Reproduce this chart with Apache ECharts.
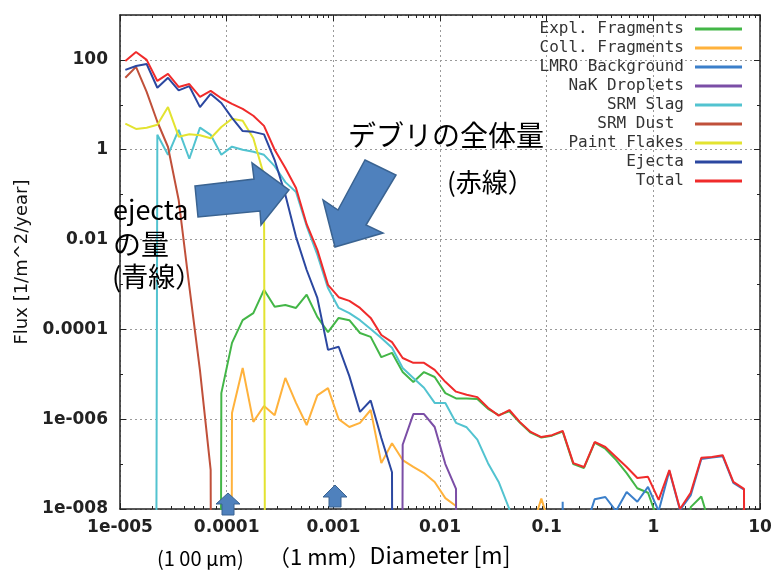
<!DOCTYPE html>
<html>
<head>
<meta charset="utf-8">
<title>Flux vs Diameter</title>
<script src="https://cdn.jsdelivr.net/npm/echarts@6/dist/echarts.min.js"></script>
<style>
    html, body {margin: 0; padding: 0; background: #fff;}
    #flux-chart {width: 776px; height: 572px;}
</style>
</head>
<body>
<div id="flux-chart"></div>
<script>
// value below the bottom of the flux axis (curve drops out of the plot)
var B = 1e-99;

// bin centres, diameter [m]
var diameters = [
    1.122e-5, 1.413e-5, 1.778e-5, 2.239e-5, 2.818e-5, 3.548e-5, 4.467e-5, 5.623e-5, 7.079e-5, 8.913e-5,
    1.122e-4, 1.413e-4, 1.778e-4, 2.239e-4, 2.818e-4, 3.548e-4, 4.467e-4, 5.623e-4, 7.079e-4, 8.913e-4,
    1.122e-3, 1.413e-3, 1.778e-3, 2.239e-3, 2.818e-3, 3.548e-3, 4.467e-3, 5.623e-3, 7.079e-3, 8.913e-3,
    0.01122, 0.01413, 0.01778, 0.02239, 0.02818, 0.03548, 0.04467, 0.05623, 0.07079, 0.08913,
    0.1122, 0.1413, 0.1778, 0.2239, 0.2818, 0.3548, 0.4467, 0.5623, 0.7079, 0.8913,
    1.122, 1.413, 1.778, 2.239, 2.818, 3.548, 4.467, 5.623, 7.079, 8.913
];

var explFragments = [
    B, B, B, B, B, B, B, B, B, 3.8e-6,
    5.0e-5, 1.6e-4, 2.3e-4, 7.6e-4, 3.2e-4, 3.5e-4, 3.0e-4, 5.9e-4, 1.9e-4, 8.7e-5,
    1.8e-4, 1.6e-4, 8.3e-5, 6.8e-5, 2.4e-5, 3.0e-5, 1.12e-5, 6.7e-6, 1.12e-5, 8.7e-6,
    3.8e-6, 2.9e-6, 2.9e-6, 2.8e-6, 1.7e-6, 1.23e-6, 1.5e-6, 8.3e-7, 5.0e-7, 3.9e-7,
    4.3e-7, 5.3e-7, 1.0e-7, 8.2e-8, 3.0e-7, 2.2e-7, 1.24e-7, 6.3e-8, 2.9e-8, 2.3e-8,
    5e-9, B, B, 1.1e-8, 1.9e-8, 3e-9, B, B, B, B
];
var collFragments = [
    B, B, B, B, B, B, B, B, B, B,
    1.38e-6, 1.38e-5, 8.7e-7, 1.96e-6, 1.23e-6, 8.3e-6, 2.3e-6, 7.4e-7, 3.4e-6, 4.9e-6,
    1.0e-6, 6.7e-7, 8.3e-7, 1.6e-6, 1.05e-7, 2.9e-7, 1.23e-7, 8.7e-8, 6.3e-8, 4.0e-8,
    1.75e-8, 1.17e-8, B, B, B, B, B, B, 3e-9, 1.7e-8,
    3e-9, B, B, B, B, B, B, B, B, B,
    B, B, B, B, B, B, B, B, B, B
];
var lmroBackground = [
    B, B, B, B, B, B, B, B, B, B,
    B, B, B, B, B, B, B, B, B, B,
    B, B, B, B, B, B, B, B, B, B,
    B, B, B, B, B, B, B, B, B, B,
    B, 1.45e-8, B, 3e-9, 1.65e-8, 1.85e-8, 9e-9, 2.4e-8, 1.45e-8, 3.1e-8,
    9e-9, 7e-8, 9.5e-9, 2.0e-8, 1.3e-7, 1.4e-7, 1.5e-7, 3.8e-8, 2.7e-8, B
];
var nakDroplets = [
    B, B, B, B, B, B, B, B, B, B,
    B, B, B, B, B, B, B, B, B, B,
    B, B, B, B, B, B, 2.7e-7, 1.3e-6, 1.3e-6, 6.7e-7,
    1.0e-7, 2.8e-8, B, B, B, B, B, B, B, B,
    B, B, B, B, B, B, B, B, B, B,
    B, B, B, B, B, B, B, B, B, B
];
var srmSlag = [
    B, B, B, 2.15, 0.77, 2.76, 0.63, 3.1, 2.15, 0.77,
    1.17, 1.0, 0.9, 0.77, 0.43, 0.19, 0.115, 0.020, 0.0046, 8.3e-4,
    3.0e-4, 2.3e-4, 1.6e-4, 1.02e-4, 6.4e-5, 3.9e-5, 1.38e-5, 8.3e-6, 5.0e-6, 2.3e-6,
    2.3e-6, 8.3e-7, 6.6e-7, 3.5e-7, 1.05e-7, 4.0e-8, 1.0e-8, B, B, B,
    B, B, B, B, B, B, B, B, B, B,
    B, B, B, B, B, B, B, B, B, B
];
var srmDust = [
    40, 70, 19.5, 4.2, 1.15, 0.076, 9e-4, 1.2e-5, 7.4e-8, B,
    B, B, B, B, B, B, B, B, B, B,
    B, B, B, B, B, B, B, B, B, B,
    B, B, B, B, B, B, B, B, B, B,
    B, B, B, B, B, B, B, B, B, B,
    B, B, B, B, B, B, B, B, B, B
];
var paintFlakes = [
    3.8, 2.9, 3.1, 3.6, 8.9, 1.95, 2.2, 2.1, 1.8, 3.2,
    4.9, 4.4, 1.8, 0.27, B, B, B, B, B, B,
    B, B, B, B, B, B, B, B, B, B,
    B, B, B, B, B, B, B, B, B, B,
    B, B, B, B, B, B, B, B, B, B,
    B, B, B, B, B, B, B, B, B, B
];
var ejecta = [
    60, 73, 81, 24, 40, 21, 26, 8.9, 17.5, 11,
    5.1, 2.6, 2.5, 2.2, 0.59, 0.1, 0.0115, 0.0021, 5.0e-4, 3.5e-5,
    4.1e-5, 9.1e-6, 1.45e-6, 2.6e-6, 3.8e-7, 6.6e-8, B, B, B, B,
    B, B, B, B, B, B, B, B, B, B,
    B, B, B, B, B, B, B, B, B, B,
    B, B, B, B, B, B, B, B, B, B
];
var total = [
    95, 150, 100, 34, 49, 25, 29, 15, 20.5, 14,
    10.5, 8.1, 5.7, 3.4, 1.0, 0.39, 0.14, 0.022, 0.0059, 9.8e-4,
    5.2e-4, 4.3e-4, 3.0e-4, 1.8e-4, 7.5e-5, 5.2e-5, 2.3e-5, 1.8e-5, 1.8e-5, 1.25e-5,
    6.8e-6, 4.1e-6, 3.5e-6, 3.1e-6, 1.8e-6, 1.2e-6, 1.6e-6, 8.6e-7, 5.2e-7, 4.0e-7,
    4.4e-7, 5.5e-7, 1.05e-7, 8.6e-8, 3.1e-7, 2.4e-7, 1.44e-7, 8.6e-8, 4.9e-8, 5.2e-8,
    1.6e-8, 7.4e-8, 1.0e-8, 2.3e-8, 1.38e-7, 1.44e-7, 1.58e-7, 4.0e-8, 2.8e-8, B
];

var seriesNames = ['Expl. Fragments', 'Coll. Fragments', 'LMRO Background', 'NaK Droplets',
    'SRM Slag', 'SRM Dust ', 'Paint Flakes', 'Ejecta', 'Total'];
var seriesValues = [explFragments, collFragments, lmroBackground, nakDroplets,
    srmSlag, srmDust, paintFlakes, ejecta, total];
var seriesColors = ['#43b647', '#ffb23c', '#3b7fca', '#7b4ea6', '#52c3d0', '#c0503a', '#e3e330', '#2b47a0', '#f02b2b'];

// tick labels
var xTicks = [1e-5, 1e-4, 1e-3, 0.01, 0.1, 1, 10];
var xTickLabels = ['1e-005', '0.0001', '0.001', '0.01', '0.1', '1', '10'];
var yTicks = [1e-8, 1e-6, 1e-4, 0.01, 1, 100];
var yTickLabels = ['1e-008', '1e-006', '0.0001', '0.01', '1', '100'];
var yMinorTicks = [1e-7, 1e-5, 1e-3, 0.1, 10];

var xMinorTicks = [];
for (var e = -5; e < 1; e++) {
    for (var m = 2; m <= 9; m++) {
        xMinorTicks.push(m * Math.pow(10, e));
    }
}

function tickLabel(ticks, labels) {
    return function (v) {
        for (var i = 0; i < ticks.length; i++) {
            if (Math.abs(Math.log10(ticks[i]) - Math.log10(v)) < 0.01) {
                return labels[i];
            }
        }
        return '';
    };
}

var axisColor = '#222';
var labelFont = {fontFamily: 'DejaVu Sans', fontSize: 17, fontWeight: 'bold', color: '#222'};

function xAxisOf(position, opts) {
    var a = {
        type: 'log', logBase: 10, min: 1e-5, max: 10, interval: 1, position: position,
        axisLine: {show: false, onZero: false},
        axisTick: {show: false},
        axisLabel: {show: false},
        splitLine: {show: false},
        minorTick: {show: false}
    };
    return Object.assign(a, opts);
}

function yAxisOf(position, opts) {
    var a = {
        type: 'log', logBase: 10, min: 1e-8, max: 1000, interval: 2, position: position,
        axisLine: {show: false, onZero: false},
        axisTick: {show: false},
        axisLabel: {show: false},
        splitLine: {show: false},
        minorTick: {show: false}
    };
    return Object.assign(a, opts);
}

var gridLine = {show: true, lineStyle: {color: '#9a9a9a', width: 1, type: [2, 3]}};

var myChart = echarts.init(document.getElementById('flux-chart'));

var option = {
    animation: false,
    backgroundColor: '#fff',
    grid: {left: 120, right: 16, top: 15, bottom: 63, containLabel: false, outerBoundsMode: 'none'},
    legend: {
        orient: 'vertical',
        right: 34,
        top: 19.5,
        padding: 0,
        align: 'right',
        icon: 'rect',
        itemWidth: 47,
        itemHeight: 3,
        itemGap: 0,
        selectedMode: false,
        textStyle: {fontFamily: 'DejaVu Sans Mono', fontSize: 16, color: '#333', lineHeight: 19, padding: [0, 6, 0, 0]},
        data: seriesNames
    },
    xAxis: [
        xAxisOf('bottom', {
            name: 'Diameter [m]',
            nameLocation: 'middle',
            nameGap: 35,
            nameTextStyle: {fontFamily: 'Noto Sans CJK JP', fontSize: 23, color: '#000'},
            axisLine: {show: true, onZero: false, lineStyle: {color: axisColor, width: 1.5}},
            axisTick: {show: true, inside: true, length: 6, lineStyle: {color: axisColor}},
            axisLabel: Object.assign({show: true, margin: 10, formatter: tickLabel(xTicks, xTickLabels)}, labelFont),
            splitLine: gridLine
        }),
        xAxisOf('bottom', {
            axisTick: {show: true, inside: true, length: 3, customValues: xMinorTicks, lineStyle: {color: axisColor}}
        }),
        xAxisOf('top', {
            axisLine: {show: true, onZero: false, lineStyle: {color: axisColor, width: 1.5}},
            axisTick: {show: true, inside: true, length: 6, lineStyle: {color: axisColor}}
        }),
        xAxisOf('top', {
            axisTick: {show: true, inside: true, length: 3, customValues: xMinorTicks, lineStyle: {color: axisColor}}
        })
    ],
    yAxis: [
        yAxisOf('left', {
            name: 'Flux [1/m^2/year]',
            nameLocation: 'middle',
            nameGap: 86,
            nameTextStyle: {fontFamily: 'DejaVu Sans', fontSize: 18, color: '#111'},
            axisLine: {show: true, onZero: false, lineStyle: {color: axisColor, width: 1.5}},
            axisTick: {show: true, inside: true, length: 6, lineStyle: {color: axisColor}},
            axisLabel: Object.assign({show: true, margin: 12, showMaxLabel: false, formatter: tickLabel(yTicks, yTickLabels)}, labelFont),
            splitLine: gridLine
        }),
        yAxisOf('left', {
            axisTick: {show: true, inside: true, length: 3, customValues: yMinorTicks, lineStyle: {color: axisColor}}
        }),
        yAxisOf('right', {
            axisLine: {show: true, onZero: false, lineStyle: {color: axisColor, width: 1.5}},
            axisTick: {show: true, inside: true, length: 6, lineStyle: {color: axisColor}}
        }),
        yAxisOf('right', {
            axisTick: {show: true, inside: true, length: 3, customValues: yMinorTicks, lineStyle: {color: axisColor}}
        })
    ],
    series: seriesNames.map(function (name, i) {
        return {
            name: name,
            type: 'line',
            xAxisIndex: 0,
            yAxisIndex: 0,
            symbol: 'none',
            clip: true,
            z: 2 + i,
            itemStyle: {color: seriesColors[i]},
            lineStyle: {color: seriesColors[i], width: 2},
            data: diameters.map(function (d, k) {
                return [d, seriesValues[i][k]];
            })
        };
    }),
    // annotations laid over the plot
    graphic: [
        {
            type: 'polygon', z: 100,
            shape: {points: [[195, 186], [254, 179], [252, 163], [289, 190], [261, 225], [260, 211], [198, 217]]},
            style: {fill: '#4f81bd', stroke: '#3a6391', lineWidth: 1.5}
        },
        {
            type: 'polygon', z: 100,
            shape: {points: [[365, 160], [396, 175], [366, 225], [383, 233], [335, 247], [323, 200], [338, 210]]},
            style: {fill: '#4f81bd', stroke: '#3a6391', lineWidth: 1.5}
        },
        {
            type: 'polygon', z: 100,
            shape: {points: [[228, 493], [240, 504], [234, 504], [234, 515], [222, 515], [222, 504], [216, 504]]},
            style: {fill: '#4f81bd', stroke: '#3a6391', lineWidth: 1}
        },
        {
            type: 'polygon', z: 100,
            shape: {points: [[335, 485], [347, 497], [341, 497], [341, 507], [329, 507], [329, 497], [323, 497]]},
            style: {fill: '#4f81bd', stroke: '#3a6391', lineWidth: 1}
        },
        {type: 'text', z: 100, style: {text: 'デブリの全体量', x: 348, y: 135, verticalAlign: 'middle', fill: '#000', font: '28px "Noto Sans CJK JP"'}},
        {type: 'text', z: 100, style: {text: '(赤線）', x: 447, y: 182, verticalAlign: 'middle', fill: '#000', font: '26px "Noto Sans CJK JP"'}},
        {type: 'text', z: 100, style: {text: 'ejecta', x: 113, y: 210, verticalAlign: 'middle', fill: '#000', font: '27px "Noto Sans CJK JP"'}},
        {type: 'text', z: 100, style: {text: 'の量', x: 113, y: 244, verticalAlign: 'middle', fill: '#000', font: '28px "Noto Sans CJK JP"'}},
        {type: 'text', z: 100, style: {text: '(青線）', x: 112, y: 277, verticalAlign: 'middle', fill: '#000', font: '27px "Noto Sans CJK JP"'}},
        {type: 'text', z: 100, style: {text: '(1 00 μm)', x: 157, y: 558, verticalAlign: 'middle', fill: '#000', font: '20px "Noto Sans CJK JP"'}},
        {type: 'text', z: 100, style: {text: '（1 mm）', x: 268, y: 557, verticalAlign: 'middle', fill: '#000', font: '22px "Noto Sans CJK JP"'}}
    ]
};

myChart.setOption(option);
</script>
</body>
</html>
